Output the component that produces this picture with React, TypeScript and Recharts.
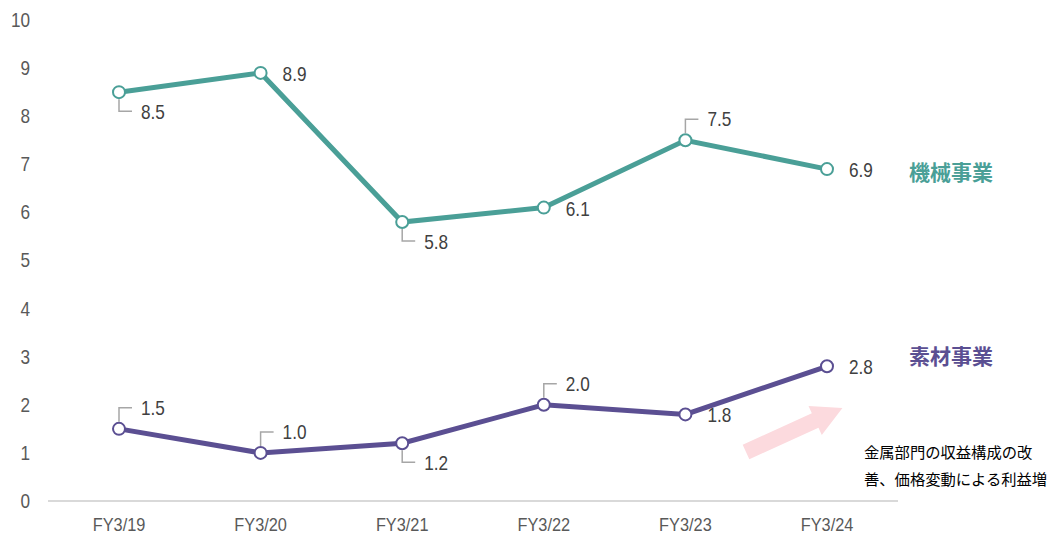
import { LabelList, Line, LineChart, XAxis, YAxis } from 'recharts';

const years = ['FY3/19', 'FY3/20', 'FY3/21', 'FY3/22', 'FY3/23', 'FY3/24'];
const machinery = [8.5, 8.9, 5.8, 6.1, 7.5, 6.9];
const materials = [1.5, 1.0, 1.2, 2.0, 1.8, 2.8];
const yTicks = [0, 1, 2, 3, 4, 5, 6, 7, 8, 9, 10];
const machineryName = '機械事業';
const materialsName = '素材事業';
const noteLines = ['金属部門の収益構成の改', '善、価格変動による利益増'];

// where each value label sits relative to its point
const machineryPlace = ['below', 'right', 'below', 'right', 'above', 'right'];
const materialsPlace = ['above', 'above', 'below', 'above', 'right', 'right'];

const TEAL = '#4a9f97';
const PURPLE = '#5b4f92';
const SANS = '"Liberation Sans", Arial, sans-serif';
const JP = '"Noto Sans CJK JP", "Noto Sans", sans-serif';

const chartData = years.map((y, i) => ({
  year: y,
  machinery: machinery[i],
  materials: materials[i],
}));

// condensed look, like Arial Narrow
const Narrow = ({ x, y, anchor = 'start', size, fill, children }: any) => (
  <text
    transform={`translate(${x},${y}) scale(0.86,1)`}
    textAnchor={anchor}
    dominantBaseline="central"
    fontFamily={SANS}
    fontSize={size}
    fill={fill}
  >
    {children}
  </text>
);

const XTick = (props: any) => (
  <Narrow x={props.x} y={props.y + 9} anchor="middle" size={19} fill="#595959">
    {props.payload.value}
  </Narrow>
);

const YTick = (props: any) => (
  <Narrow x={props.x} y={props.y} anchor="end" size={20} fill="#595959">
    {props.payload.value}
  </Narrow>
);

const makeLabel =
  (places: string[], name: string, color: string, nameDy: number) =>
  (props: any) => {
    const { x, y, value, index } = props;
    const place = places[index];
    let ty = y + 1;
    let leader: string | null = null;
    if (place === 'below') {
      leader = `M${x},${y + 7} V${y + 19} H${x + 13}`;
      ty = y + 20;
    } else if (place === 'above') {
      leader = `M${x},${y - 7} V${y - 21} H${x + 13}`;
      ty = y - 21;
    }
    return (
      <g>
        {leader && <path d={leader} fill="none" stroke="#a6a6a6" strokeWidth={1.5} />}
        <Narrow x={x + 22} y={ty} size={20} fill="#404040">
          {Number(value).toFixed(1)}
        </Narrow>
        {index === years.length - 1 && (
          <text
            x={x + 82}
            y={y + nameDy}
            dominantBaseline="central"
            fontFamily={JP}
            fontWeight={700}
            fontSize={21}
            fill={color}
          >
            {name}
          </text>
        )}
      </g>
    );
  };

export default function App() {
  return (
    <div style={{ position: 'relative', margin: -8, width: 1058, height: 539, background: '#fff' }}>
      <LineChart
        width={1058}
        height={539}
        data={chartData}
        margin={{ top: 20, right: 160, bottom: 8, left: 0 }}
      >
        <XAxis
          dataKey="year"
          height={30}
          padding={{ left: 71, right: 71 }}
          axisLine={{ stroke: '#d9d9d9', strokeWidth: 2 }}
          tickLine={false}
          tickMargin={9}
          tick={<XTick />}
        />
        <YAxis
          width={48}
          domain={[0, 10]}
          ticks={yTicks}
          axisLine={false}
          tickLine={false}
          tickMargin={12}
          tick={<YTick />}
        />
        <Line
          dataKey="machinery"
          stroke={TEAL}
          strokeWidth={5}
          dot={{ r: 6, fill: '#fff', stroke: TEAL, strokeWidth: 2 }}
          activeDot={false}
          isAnimationActive={false}
        >
          <LabelList dataKey="machinery" content={makeLabel(machineryPlace, machineryName, TEAL, 2)} />
        </Line>
        <Line
          dataKey="materials"
          stroke={PURPLE}
          strokeWidth={5}
          dot={{ r: 6, fill: '#fff', stroke: PURPLE, strokeWidth: 2 }}
          activeDot={false}
          isAnimationActive={false}
        >
          <LabelList dataKey="materials" content={makeLabel(materialsPlace, materialsName, PURPLE, -11)} />
        </Line>
      </LineChart>
      <svg
        width={1058}
        height={539}
        style={{ position: 'absolute', left: 0, top: 0, pointerEvents: 'none' }}
      >
        <g transform="translate(746,452) rotate(-24.5)">
          <polygon points="0,-8 76,-8 76,-16 106,0 76,16 76,8 0,8" fill="#fcdade" />
        </g>
        {noteLines.map((t, i) => (
          <text key={i} x={864} y={451 + i * 27} dominantBaseline="central" fontFamily={JP} fontSize={15.3} fill="#000">
            {t}
          </text>
        ))}
      </svg>
    </div>
  );
}
